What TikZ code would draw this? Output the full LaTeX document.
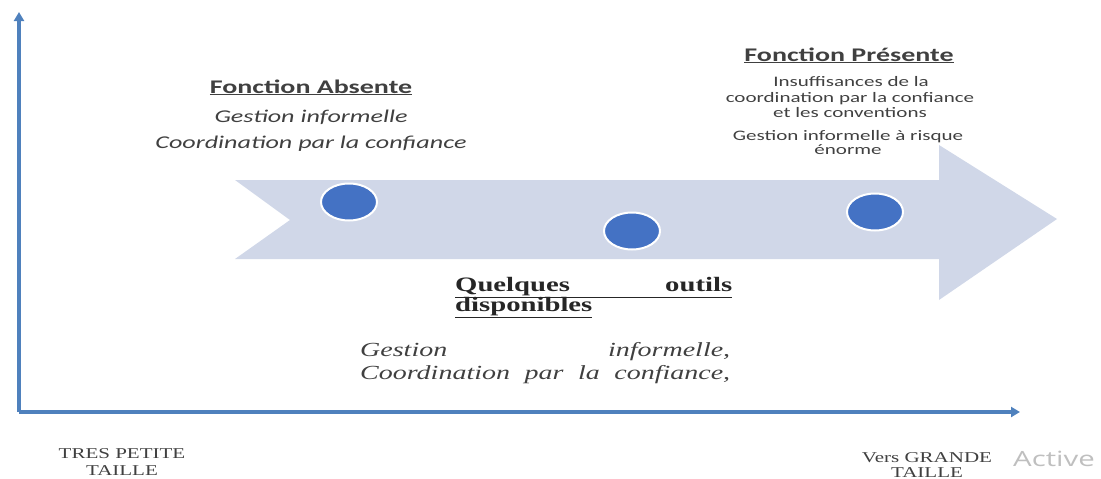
\documentclass[tikz,border=0pt]{standalone}
\usepackage{fontspec}
\setmainfont[FakeStretch=1.4]{Liberation Serif}
\newfontfamily\calfont[FakeStretch=1.45]{Carlito}
\newfontfamily\winfont[FakeStretch=1.4]{Open Sans}
\usetikzlibrary{arrows.meta,shapes.geometric,positioning}
\definecolor{axisblue}{RGB}{79,129,189}
\definecolor{chevgray}{RGB}{208,215,232}
\definecolor{dotblue}{RGB}{68,114,196}
\definecolor{txtgray}{RGB}{64,64,64}

\tikzset{
  axisline/.style={draw=axisblue, line width=3.2pt, -{Triangle[length=9pt,width=10pt]}},
  stepdot/.style={ellipse, fill=dotblue, draw=white, line width=2pt, minimum width=56pt, minimum height=37pt, inner sep=0pt},
  headcal/.style={font=\calfont\bfseries\fontsize{19.3}{22}\selectfont, text=txtgray, inner sep=0pt, anchor=base},
  itcal/.style={font=\calfont\itshape\fontsize{18}{22}\selectfont, text=txtgray, inner sep=0pt, anchor=base},
  smallcal/.style={font=\calfont\fontsize{14.5}{16}\selectfont, text=txtgray, inner sep=0pt, anchor=base},
  headser/.style={font=\bfseries\fontsize{20.5}{22}\selectfont, text=black!85, inner sep=0pt, anchor=base west},
  itser/.style={font=\itshape\fontsize{20}{23}\selectfont, text=txtgray, inner sep=0pt, anchor=base west},
  sizelab/.style={font=\fontsize{15}{17}\selectfont, text=txtgray, inner sep=0pt, anchor=base}
}

\begin{document}
\begin{tikzpicture}[x=1pt,y=-1pt]
\useasboundingbox (0,0) rectangle (1101,479);

% axes
\coordinate (origin) at (19,412);
\coordinate (ytip) at (19,12);
\coordinate (xtip) at (1020,412);
\draw[axisline] (origin) -- (ytip);
\draw[axisline] (origin) -- (xtip);

% big chevron arrow
\fill[chevgray] (235,180) -- (939,180) -- (939,145) -- (1057,219) -- (939,300)
  -- (939,259) -- (235,259) -- (290,220) -- cycle;

% the three stages
\foreach \x/\y/\n in {349/202/dotA, 632/231/dotB, 875/212/dotC}
  \node[stepdot] (\n) at (\x,\y) {};

% left block
\node[headcal] (absTitle) at (311,93) {\underline{Fonction Absente}};
\node[itcal] (absL1) at (311,122) {Gestion informelle};
\node[itcal] (absL2) at (311,148) {Coordination par la confiance};

% right block
\node[headcal] (preTitle) at (849,61) {\underline{Fonction Présente}};
\node[smallcal] (preL1) at (851,86) {Insuffisances de la};
\node[smallcal] (preL2) at (850,102) {coordination par la confiance};
\node[smallcal] (preL3) at (850,117) {et les conventions};
\node[smallcal] (preL4) at (848,140) {Gestion informelle à risque};
\node[smallcal] (preL5) at (848,154) {énorme};

% middle block
\node[headser] (midTitle) at (455,291) {\underline{\makebox[277pt][s]{Quelques outils}}};
\node[headser] (midTitleB) at (455,311) {\underline{disponibles}};
\node[itser] (midL1) at (360,356) {\makebox[370pt][s]{Gestion informelle,}};
\node[itser] (midL2) at (360,379) {\makebox[370pt][s]{Coordination par la confiance,}};

% size labels
\node[sizelab] (smallA) at (122,458) {TRES PETITE};
\node[sizelab] (smallB) at (122,475) {TAILLE};
\node[sizelab] (bigA) at (927,462) {Vers GRANDE};
\node[sizelab] (bigB) at (927,477) {TAILLE};
\node[font=\winfont\fontsize{21}{24}\selectfont, text=black!25, inner sep=0pt, anchor=base west] (wmark) at (1013,466) {Active};
\end{tikzpicture}
\end{document}
